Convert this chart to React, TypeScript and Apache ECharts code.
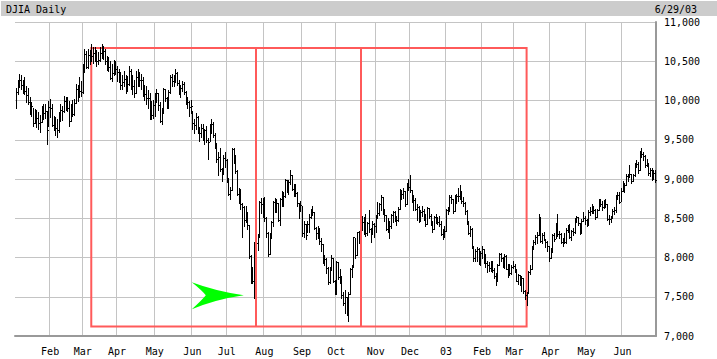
import React, { useEffect, useRef } from "react";
import * as echarts from "echarts";

// [high, low, close] per trading day, one array per month
const jan02 = [[10160,9900,10110],[10260,10080,10230],[10340,10170,10259],[10320,10150,10197],[10260,10100,10150],[10300,10080,10120],[10180,9980,10067],[10160,9950,9987],[10040,9830,9891],[9980,9800,9924],[9910,9680,9712],[9890,9710,9850],[9880,9660,9771],[9850,9640,9713],[9820,9600,9730],[9930,9720,9796],[9950,9760,9840],[9950,9780,9865],[9860,9450,9618],[10000,9680,9920]];
const feb02 = [[10020,9790,9907],[9950,9680,9687],[9800,9620,9685],[9790,9560,9653],[9760,9530,9625],[9850,9600,9744],[9950,9740,9884],[9930,9750,9863],[10060,9850,9989],[10040,9880,9903],[10040,9860,9903],[9990,9680,9745],[9960,9740,9941],[10010,9800,9834],[10020,9820,9969],[10210,9970,10145],[10200,10000,10115],[10300,10040,10127],[10250,10060,10106]];
const mar02 = [[10460,10100,10368],[10650,10360,10586],[10630,10410,10433],[10660,10420,10574],[10640,10460,10525],[10720,10500,10572],[10680,10480,10611],[10680,10500,10632],[10640,10440,10501],[10620,10460,10517],[10680,10500,10608],[10720,10540,10577],[10700,10530,10635],[10660,10460,10501],[10570,10390,10479],[10550,10370,10427],[10500,10270,10281],[10470,10250,10353],[10520,10330,10426],[10500,10340,10404]];
const apr02 = [[10440,10250,10362],[10400,10230,10313],[10360,10146,10199],[10320,10150,10235],[10380,10190,10271],[10330,10100,10249],[10310,10120,10208],[10445,10200,10381],[10400,10150,10176],[10330,10080,10191],[10260,10050,10094],[10380,10100,10302],[10400,10190,10273],[10360,10180,10256],[10340,10150,10257],[10300,10060,10137],[10200,10010,10089],[10180,9960,10031],[10140,9900,10035],[10100,9770,9910],[9990,9760,9819],[10010,9780,9946]];
const may02 = [[10100,9800,10059],[10150,9980,10091],[10100,9880,9939],[9980,9720,9737],[9900,9700,9836],[10160,9840,10141],[10150,9990,10037],[10050,9900,9939],[10130,9900,10109],[10330,10100,10298],[10340,10180,10243],[10320,10180,10289],[10400,10240,10353],[10360,10200,10229],[10260,10080,10105],[10200,10040,10157],[10250,10120,10216],[10240,10080,10105],[10120,9960,10000],[10040,9900,9981],[10000,9800,9911],[10010,9840,9925]];
const jun02 = [[9860,9640,9709],[9760,9580,9687],[9840,9640,9796],[9800,9580,9624],[9660,9480,9589],[9700,9530,9645],[9700,9500,9517],[9640,9440,9620],[9680,9470,9502],[9520,9250,9474],[9700,9480,9687],[9760,9590,9706],[9720,9540,9561],[9580,9400,9431],[9460,9220,9253],[9340,9050,9281],[9390,9100,9127],[9140,8980,9120],[9300,9060,9270],[9340,9150,9243]];
const jul02 = [[9250,8960,9007],[9010,8790,8809],[8900,8740,8855],[9390,8860,9379],[9390,9200,9275],[9310,9080,9097],[9110,8800,8813],[8890,8690,8801],[8870,8620,8685],[8700,8260,8639],[8650,8400,8473],[8650,8450,8542],[8580,8360,8409],[8410,7990,8019],[8030,7680,7784],[7880,7680,7702],[8200,7490,8191],[8280,7960,8186],[8300,8100,8264],[8720,8260,8712],[8760,8570,8680],[8760,8520,8736]];
const aug02 = [[8770,8460,8506],[8520,8260,8313],[8320,8020,8043],[8310,8050,8274],[8470,8250,8456],[8720,8400,8712],[8760,8580,8745],[8740,8580,8688],[8700,8460,8482],[8760,8420,8743],[8850,8660,8818],[8830,8660,8778],[9000,8770,8991],[8990,8840,8885],[8990,8810,8958],[9110,8930,9053],[9050,8860,8872],[8940,8780,8919],[8930,8780,8825],[8830,8660,8694],[8700,8500,8670],[8720,8590,8663]];
const sep02 = [[8660,8280,8308],[8470,8260,8425],[8430,8230,8283],[8460,8320,8427],[8550,8320,8519],[8620,8500,8602],[8650,8540,8581],[8580,8360,8379],[8390,8240,8312],[8400,8250,8380],[8380,8170,8207],[8250,8080,8172],[8170,7930,7942],[8030,7900,7986],[7990,7800,7872],[7880,7660,7683],[7880,7680,7841],[8030,7840,7997],[7990,7690,7701],[7710,7530,7592]];
const oct02 = [[7950,7540,7938],[7940,7730,7755],[7850,7670,7717],[7760,7490,7528],[7560,7400,7423],[7590,7290,7501],[7500,7270,7286],[7560,7190,7534],[7860,7530,7850],[7900,7750,7878],[8260,7880,8256],[8250,8000,8036],[8330,8030,8322],[8340,8180,8323],[8550,8290,8538],[8530,8350,8451],[8510,8300,8494],[8560,8280,8318],[8450,8290,8444],[8600,8320,8368],[8370,8200,8325],[8470,8300,8427],[8440,8260,8397]];
const nov02 = [[8540,8320,8518],[8710,8500,8571],[8690,8540,8678],[8800,8600,8771],[8770,8550,8586],[8620,8470,8537],[8540,8350,8358],[8500,8330,8386],[8460,8250,8399],[8550,8380,8542],[8590,8450,8579],[8590,8460,8487],[8530,8410,8474],[8640,8460,8623],[8870,8620,8845],[8860,8750,8805],[8880,8760,8849],[8850,8660,8676],[8950,8680,8931],[9000,8860,8896]];
const dec02 = [[9050,8840,8862],[8860,8710,8742],[8800,8600,8737],[8760,8600,8623],[8680,8480,8645],[8660,8450,8473],[8600,8460,8574],[8650,8530,8589],[8620,8480,8538],[8560,8400,8433],[8640,8430,8627],[8630,8500,8535],[8560,8410,8447],[8470,8330,8364],[8530,8360,8511],[8560,8440,8493],[8520,8430,8448],[8530,8400,8432],[8470,8290,8304],[8360,8240,8332],[8400,8260,8342]];
const jan03 = [[8620,8340,8608],[8640,8550,8601],[8800,8590,8773],[8790,8690,8740],[8740,8570,8595],[8800,8590,8776],[8810,8690,8785],[8880,8720,8785],[8920,8740,8842],[8850,8700,8723],[8770,8660,8697],[8710,8560,8586],[8600,8430,8442],[8460,8300,8318],[8400,8270,8369],[8380,8120,8131],[8150,7960,7989],[8110,7950,8089],[8140,7950,8110],[8120,7920,7946],[8080,7900,8054]];
const feb03 = [[8150,7990,8110],[8110,7930,7985],[8050,7880,7930],[7960,7820,7905],[7940,7830,7865],[7960,7830,7920],[7960,7820,7843],[7870,7740,7758],[7800,7650,7750],[7920,7700,7909],[8060,7900,8041],[8060,7960,8000],[8010,7880,7915],[8040,7860,8018],[8030,7850,7858],[7920,7750,7910],[7920,7780,7806],[7900,7790,7885],[7960,7860,7891]];
const mar03 = [[7920,7820,7837],[7850,7700,7705],[7790,7660,7775],[7780,7650,7673],[7760,7570,7740],[7740,7550,7568],[7580,7470,7524],[7560,7400,7552],[7830,7550,7821],[7900,7790,7859],[8150,7850,8141],[8220,8110,8195],[8290,8170,8265],[8330,8180,8287],[8550,8290,8522],[8520,8200,8215],[8310,8180,8281],[8320,8220,8229],[8240,8130,8201],[8210,8080,8145],[8150,7960,7992]];
const apr03 = [[8120,7990,8069],[8300,8070,8285],[8310,8210,8240],[8440,8250,8277],[8560,8280,8300],[8340,8250,8298],[8310,8190,8197],[8250,8150,8221],[8310,8180,8203],[8370,8190,8351],[8420,8320,8403],[8430,8250,8257],[8350,8220,8338],[8380,8290,8328],[8500,8310,8485],[8530,8450,8516],[8520,8420,8440],[8440,8300,8307],[8490,8310,8471],[8580,8460,8502],[8530,8430,8480]];
const may03 = [[8490,8400,8454],[8600,8420,8583],[8640,8540,8588],[8680,8570,8644],[8650,8570,8604],[8620,8490,8514],[8620,8520,8604],[8740,8600,8727],[8740,8650,8679],[8720,8610,8648],[8730,8630,8713],[8740,8640,8677],[8680,8480,8493],[8540,8430,8491],[8530,8450,8517],[8620,8500,8594],[8640,8560,8601],[8790,8580,8781],[8830,8740,8794],[8840,8700,8712],[8880,8720,8850]];
const jun03 = [[8970,8850,8897],[8950,8830,8923],[9060,8920,9039],[9070,8980,9041],[9180,9030,9062],[9070,8950,8980],[9070,8970,9054],[9200,9040,9183],[9240,9150,9196],[9220,9080,9117],[9360,9110,9319],[9400,9280,9323],[9350,9240,9293],[9300,9150,9179],[9260,9170,9201],[9210,9050,9073],[9140,9040,9110],[9140,8990,9011],[9110,9000,9079],[9110,8960,8989]];

const months = [jan02, feb02, mar02, apr02, may02, jun02, jul02, aug02, sep02, oct02, nov02, dec02, jan03, feb03, mar03, apr03, may03, jun03];
const monthLabels = ["Jan", "Feb", "Mar", "Apr", "May", "Jun", "Jul", "Aug", "Sep", "Oct", "Nov", "Dec", "03", "Feb", "Mar", "Apr", "May", "Jun"];
const yTicks = [7000, 11000, 500]; // min, max, step

// annotation box (category indices, values)
const boxX = [44, 298];
const boxY = [10670, 7120];
const dividers = [140, 201];
const arrowTip = [133, 7520];

const TITLE = "DJIA Daily";
const DATE = "6/29/03";
const RED = "#ff5a5a";
const FONT = "'DejaVu Sans Mono', monospace";

export default function App() {
  const ref = useRef<HTMLDivElement>(null);
  useEffect(() => {
    if (!ref.current) return;
    const chart = echarts.init(ref.current, undefined, { renderer: "svg" });

    const cats: string[] = [];
    const bars: number[][] = [];
    const labelAt: Record<number, string> = {};
    months.forEach((m, mi) => {
      m.forEach((d, di) => {
        const idx = cats.length;
        if (di === 0 && mi > 0) labelAt[idx] = monthLabels[mi];
        cats.push(mi + ":" + di);
        bars.push([idx, d[0], d[1], d[2]]);
      });
    });
    const isMonthStart = (i: number) => labelAt[i] !== undefined;

    chart.setOption({
      animation: false,
      backgroundColor: "#ffffff",
      grid: { left: 15, right: 61, top: 22, bottom: 23 },
      graphic: [
        { type: "rect", shape: { x: 1, y: 1, width: 716, height: 15 }, style: { fill: "#cccccc" }, silent: true },
        { type: "text", x: 6, y: 9, style: { text: TITLE, font: "10px " + FONT, fill: "#000", verticalAlign: "middle" }, silent: true },
        { type: "text", x: 697, y: 9, style: { text: DATE, font: "10px " + FONT, fill: "#000", align: "right", verticalAlign: "middle" }, silent: true },
      ],
      xAxis: {
        type: "category",
        data: cats,
        boundaryGap: true,
        axisLine: { show: true, lineStyle: { color: "#999999", width: 2 } },
        axisTick: { show: false },
        axisLabel: {
          interval: (i: number) => isMonthStart(i),
          formatter: (_v: string, i: number) => labelAt[i] || "",
          fontFamily: FONT,
          fontSize: 10,
          color: "#000",
          margin: 10,
        },
        splitLine: { show: true, interval: (i: number) => isMonthStart(i), lineStyle: { color: "#c4c4c4", width: 1 } },
      },
      yAxis: {
        type: "value",
        position: "right",
        min: yTicks[0],
        max: yTicks[1],
        interval: yTicks[2],
        axisLine: { show: true, lineStyle: { color: "#999999", width: 2 } },
        axisTick: { show: false },
        axisLabel: {
          formatter: (v: number) => v.toLocaleString("en-US"),
          fontFamily: FONT,
          fontSize: 10,
          color: "#000",
          margin: 8,
        },
        splitLine: { show: true, lineStyle: { color: "#c4c4c4", width: 1 } },
      },
      series: [
        {
          type: "custom",
          data: bars,
          encode: { x: 0, y: [1, 2, 3] },
          renderItem: (_p: any, api: any) => {
            const i = api.value(0);
            const hi = api.coord([i, api.value(1)]);
            const lo = api.coord([i, api.value(2)]);
            const cl = api.coord([i, api.value(3)]);
            const x = Math.round(hi[0]) + 0.5;
            const yc = Math.round(cl[1]) + 0.5;
            return {
              type: "group",
              children: [
                { type: "line", shape: { x1: x, y1: Math.round(hi[1]), x2: x, y2: Math.round(lo[1]) + 1 }, style: { stroke: "#000", lineWidth: 1 } },
                { type: "line", shape: { x1: x - 0.5, y1: yc, x2: x + 1.5, y2: yc }, style: { stroke: "#000", lineWidth: 1 } },
              ],
            };
          },
          z: 3,
          markArea: {
            silent: true,
            itemStyle: { color: "rgba(0,0,0,0)", borderColor: RED, borderWidth: 2 },
            label: { show: false },
            data: [[{ coord: [cats[boxX[0]], boxY[0]] }, { coord: [cats[boxX[1]], boxY[1]] }]],
          },
          markLine: {
            silent: true,
            symbol: ["none", "none"],
            label: { show: false },
            lineStyle: { color: RED, width: 2, type: "solid" },
            data: dividers.map((d) => [{ coord: [cats[d], boxY[0]] }, { coord: [cats[d], boxY[1]] }]),
          },
        },
        {
          type: "custom",
          data: [arrowTip],
          encode: { x: 0, y: 1 },
          z: 4,
          renderItem: (_p: any, api: any) => {
            const p = api.coord([api.value(0), api.value(1)]);
            const tx = p[0], ty = p[1];
            const d =
              `M${tx},${ty} Q${tx - 28},${ty - 4} ${tx - 52},${ty - 13} ` +
              `Q${tx - 42},${ty - 5} ${tx - 38},${ty} ` +
              `Q${tx - 42},${ty + 5} ${tx - 52},${ty + 14} ` +
              `Q${tx - 28},${ty + 4} ${tx},${ty} Z`;
            return { type: "path", shape: { pathData: d }, style: { fill: "#00ff00", stroke: "none" } };
          },
        },
      ],
    });
    return () => chart.dispose();
  }, []);
  return <div ref={ref} style={{ position: "fixed", left: 0, top: 0, width: 717, height: 359, background: "#fff" }} />;
}
